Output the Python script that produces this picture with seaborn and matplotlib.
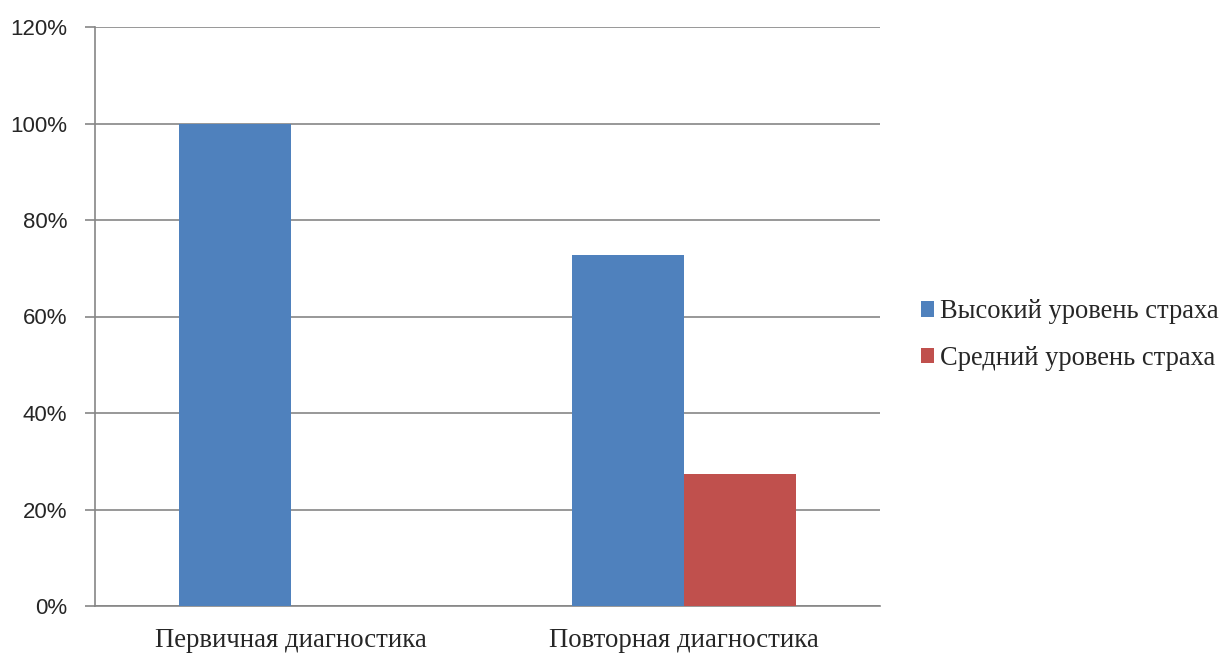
import matplotlib
matplotlib.use("Agg")
import matplotlib.pyplot as plt
from matplotlib.ticker import FixedLocator, PercentFormatter
import seaborn as sns
import pandas as pd

categories = ["Первичная диагностика", "Повторная диагностика"]
series_names = ["Высокий уровень страха", "Средний уровень страха"]
high_fear = [100.0, 72.7]
medium_fear = [0.0, 27.3]
y_ticks = [0, 20, 40, 60, 80, 100, 120]

colors = ["#4F81BD", "#C0504D"]
grid_color = "#868686"

df = pd.DataFrame({
    "category": categories * 2,
    "series": [series_names[0]] * 2 + [series_names[1]] * 2,
    "value": high_fear + medium_fear,
})

sns.set_style("white")
fig = plt.figure(figsize=(12.24, 6.53), dpi=100)
ax = fig.add_axes([95 / 1224, 1 - 606 / 653, (880 - 95) / 1224, (606 - 27) / 653])

sns.barplot(data=df, x="category", y="value", hue="series", order=categories,
            hue_order=series_names, palette=colors, width=224 / 392, gap=0,
            saturation=1, linewidth=0, ax=ax, legend=True, zorder=3)

ax.set_xlim(-0.5, 1.5)
ax.set_ylim(0, 120)
ax.yaxis.set_major_locator(FixedLocator(y_ticks))
ax.yaxis.set_major_formatter(PercentFormatter(decimals=0))
ax.grid(axis="y", color=grid_color, linewidth=1.2, zorder=0)
ax.set_axisbelow(True)

for side in ["top", "right"]:
    ax.spines[side].set_visible(False)
for side in ["left", "bottom"]:
    ax.spines[side].set_color(grid_color)
    ax.spines[side].set_linewidth(1.2)

ax.tick_params(axis="y", length=7, color=grid_color, width=1.2, pad=13,
               labelsize=16, left=True)
for lab in ax.get_yticklabels():
    lab.set_fontfamily("Liberation Sans")

ax.set_xticks([0, 1])
ax.set_xticklabels(categories, fontfamily="Liberation Serif", fontsize=19.3)
ax.tick_params(axis="x", length=0, pad=16)
ax.set_xticks([-0.5, 0.5, 1.5], minor=True)
ax.tick_params(axis="x", which="minor", length=7, color=grid_color, width=1.2)
ax.set_xlabel("")
ax.set_ylabel("")

leg = ax.legend(loc="center left", bbox_to_anchor=(897 / 1224, 1 - 335 / 653),
                bbox_transform=fig.transFigure, frameon=False,
                prop={"family": "Liberation Serif", "size": 19.1},
                handlelength=0.5, handleheight=0.5, handletextpad=0.22,
                labelspacing=0.8)

fig.savefig("out.png", dpi=100, facecolor="white")
